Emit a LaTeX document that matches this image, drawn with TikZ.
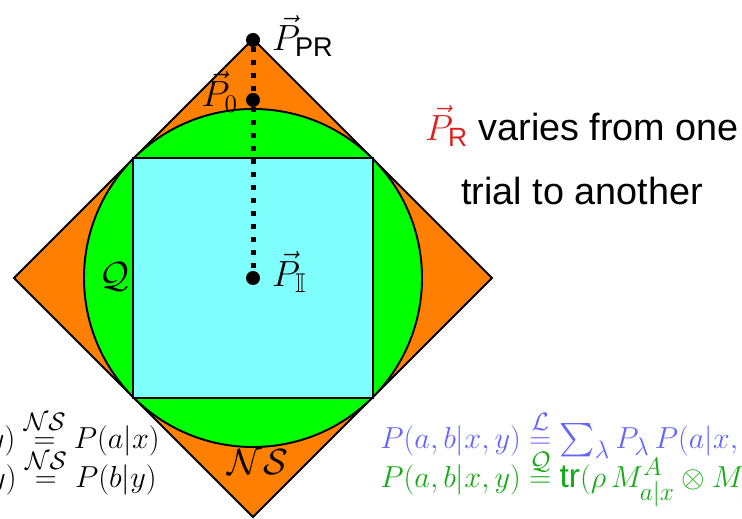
\documentclass[tikz,border=0pt]{standalone}
\usepackage{amsmath,amssymb}
\usepackage{fontspec}
\setsansfont{Liberation Sans}
\newfontfamily\arialf{Liberation Sans}
\definecolor{nsorange}{RGB}{255,128,0}
\definecolor{qgreen}{RGB}{0,255,0}
\definecolor{lcyan}{RGB}{128,255,255}
\definecolor{txtblue}{RGB}{100,100,255}
\definecolor{txtgreen}{RGB}{20,170,20}
\definecolor{txtred}{RGB}{225,30,30}
\begin{document}
\begin{tikzpicture}[x=0.02cm,y=-0.02cm,
  edge/.style={draw=black,line width=1.1pt},
  dotpt/.style={circle,fill=black,inner sep=0pt,minimum size=0.28cm},
  mathlbl/.style={font=\fontsize{22}{26}\selectfont,inner sep=1pt},
  eqlbl/.style={font=\fontsize{19}{22}\selectfont,inner sep=0pt},
  sidetxt/.style={font=\arialf\fontsize{21.5}{36}\selectfont,align=center,inner sep=0pt}]
\useasboundingbox (0,0) rectangle (742,519);
\clip (0,0) rectangle (742,519);
% shapes
\coordinate (c) at (253,278);
\fill[nsorange] (253,39) -- (492,278) -- (253,517) -- (14,278) -- cycle;
\draw[edge,line join=miter] (253,39) -- (492,278) -- (253,517) -- (14,278) -- cycle;
\filldraw[fill=qgreen,edge] (c) circle[radius=169];
\filldraw[fill=lcyan,edge] (133,158) rectangle (373,398);
% points
\node[dotpt] (pr) at (253,40) {};
\node[dotpt] (p0) at (253,100) {};
\node[dotpt] (pi) at (253,278) {};
\draw[line width=0.1cm,dash pattern=on 0.1cm off 0.16cm] (pr) -- (p0) -- (pi);
% labels
\node[mathlbl,anchor=west] (lpr) at (270,36) {$\vec P_{\mathsf{PR}}$};
\node[mathlbl,anchor=east] (lp0) at (240,92) {$\vec P_0$};
\node[mathlbl,anchor=west] (lpi) at (270,272) {$\vec P_{\mathbb{I}}$};
\node[mathlbl] (lq) at (114,277) {$\mathcal{Q}$};
\node[mathlbl] (lns) at (258,462) {$\mathcal{NS}$};
% side text
\node[sidetxt] (side) at (582,155) {{\color{txtred}$\vec P_{\mathsf{R}}$} varies from one\\trial to another};
% equations
\node[eqlbl,anchor=base east] (e1) at (160,448) {$\sum_b P(a,b|x,y) \overset{\mathcal{NS}}{=} P(a|x)$};
\node[eqlbl,anchor=base east] (e2) at (157,487) {$\sum_a P(a,b|x,y) \overset{\mathcal{NS}}{=} P(b|y)$};
\node[eqlbl,anchor=base west,text=txtblue] (e3) at (380,448) {$P(a,b|x,y) \overset{\mathcal{L}}{=} \sum_\lambda P_\lambda\, P(a|x,\lambda)\,P(b|y,\lambda)$};
\node[eqlbl,anchor=base west,text=txtgreen] (e4) at (380,487) {$P(a,b|x,y) \overset{\mathcal{Q}}{=} \mathsf{tr}(\rho\, M^A_{a|x}\otimes M^B_{b|y})$};
\end{tikzpicture}
\end{document}
